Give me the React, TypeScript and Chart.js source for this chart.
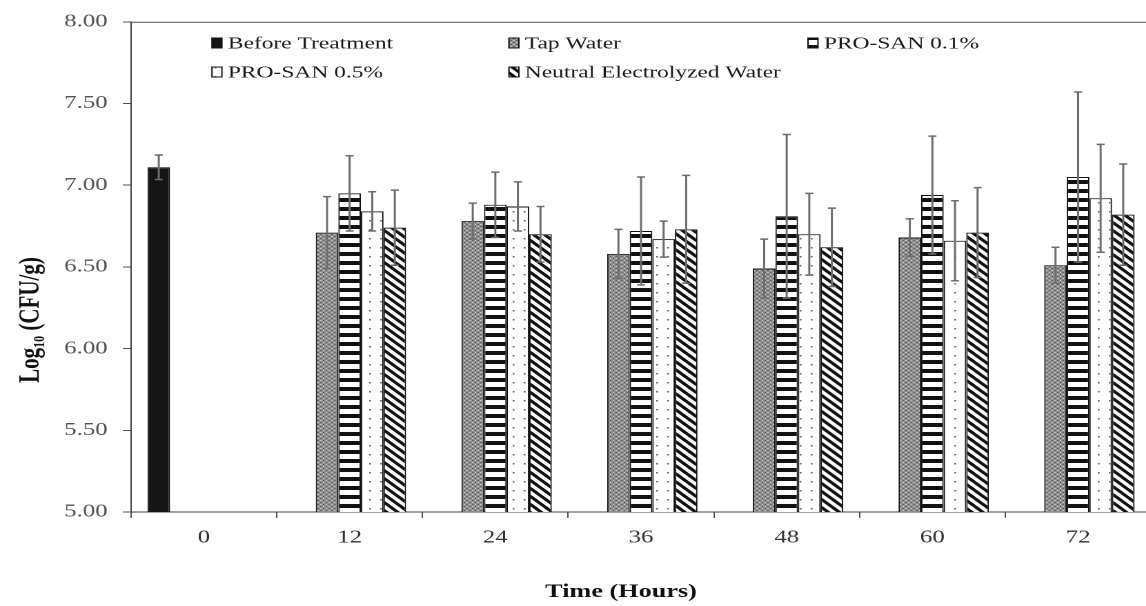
import React, { useEffect, useRef } from 'react';
import { Chart, registerables } from 'chart.js';

Chart.register(...registerables);

// ---------------- data ----------------
const categories = ['0', '12', '24', '36', '48', '60', '72'];
const seriesNames = ['Before Treatment', 'Tap Water', 'PRO-SAN 0.1%', 'PRO-SAN 0.5%', 'Neutral Electrolyzed Water'];

const beforeTreatment = [7.11, null, null, null, null, null, null];
const beforeTreatmentErr = [0.075, null, null, null, null, null, null];

const tapWater = [null, 6.71, 6.78, 6.58, 6.49, 6.68, 6.51];
const tapWaterErr = [null, 0.22, 0.11, 0.15, 0.18, 0.115, 0.11];

const proSan01 = [null, 6.95, 6.88, 6.72, 6.81, 6.94, 7.05];
const proSan01Err = [null, 0.23, 0.2, 0.33, 0.5, 0.36, 0.52];

const proSan05 = [null, 6.84, 6.87, 6.67, 6.7, 6.66, 6.92];
const proSan05Err = [null, 0.12, 0.15, 0.11, 0.25, 0.245, 0.33];

const neutralEW = [null, 6.74, 6.7, 6.73, 6.62, 6.71, 6.82];
const neutralEWErr = [null, 0.23, 0.17, 0.33, 0.24, 0.275, 0.31];

const yMin = 5;
const yMax = 8;
const yStep = 0.5;

const xTitle = 'Time (Hours)';
const yTitleMain = 'Log';
const yTitleSub = '10';
const yTitleRest = ' (CFU/g)';

// ---------------- layout (logical canvas px; page stretches x by S) ----------------
const S = 1.38;
const W = 840;
const H = 606;
const SERIF = '"Liberation Serif", "Times New Roman", serif';

const legendCols = [153.6, 368.8, 585.5];
const legendRows = [43, 72];
const legendSlots = [
  [0, 0],
  [1, 0],
  [2, 0],
  [0, 1],
  [1, 1],
];

function makePattern(w: number, h: number, draw: (c: CanvasRenderingContext2D) => void) {
  const c = document.createElement('canvas');
  c.width = w * 2;
  c.height = h * 2;
  const g = c.getContext('2d')!;
  g.scale(2, 2);
  draw(g);
  const p = g.createPattern(c, 'repeat')!;
  p.setTransform(new DOMMatrix().scale(0.5));
  return p;
}

function buildFills() {
  const solid = '#151515';
  const tap = makePattern(4, 4, (g) => {
    g.fillStyle = '#8e8e8e';
    g.fillRect(0, 0, 4, 4);
    g.fillStyle = '#cacaca';
    g.fillRect(0, 0, 1, 1);
    g.fillRect(2, 2, 1, 1);
    g.fillStyle = '#5c5c5c';
    g.fillRect(2, 0, 1, 1);
    g.fillRect(0, 2, 1, 1);
  });
  const horiz = makePattern(2, 9, (g) => {
    g.fillStyle = '#ffffff';
    g.fillRect(0, 0, 2, 9);
    g.fillStyle = '#111111';
    g.fillRect(0, 0, 2, 4);
  });
  const dots = makePattern(8, 9, (g) => {
    g.fillStyle = '#ffffff';
    g.fillRect(0, 0, 8, 9);
    g.fillStyle = '#6a6a6a';
    g.fillRect(3.5, 4, 1.3, 1.5);
  });
  const diag = makePattern(8, 8, (g) => {
    g.fillStyle = '#ffffff';
    g.fillRect(0, 0, 8, 8);
    g.strokeStyle = '#111111';
    g.lineWidth = 2.7;
    for (let k = -1; k <= 1; k++) {
      g.beginPath();
      g.moveTo(k * 8 - 1, -1);
      g.lineTo(k * 8 + 9, 9);
      g.stroke();
    }
  });
  return [solid, tap, horiz, dots, diag];
}

const overlayPlugin = {
  id: 'overlay',
  afterDatasetsDraw(chart: any) {
    const ctx = chart.ctx as CanvasRenderingContext2D;
    const ys = chart.scales.y;
    ctx.save();
    ctx.strokeStyle = '#6e6e6e';
    ctx.lineWidth = 1.5;
    const cap = 2.9;
    chart.data.datasets.forEach((ds: any, di: number) => {
      const meta = chart.getDatasetMeta(di);
      ds.data.forEach((v: number | null, i: number) => {
        const e = ds.errors[i];
        if (v == null || e == null) return;
        const bar = meta.data[i];
        const x = bar.x;
        const yt = ys.getPixelForValue(v + e);
        const yb = ys.getPixelForValue(v - e);
        ctx.beginPath();
        ctx.moveTo(x, yt);
        ctx.lineTo(x, yb);
        ctx.moveTo(x - cap, yt);
        ctx.lineTo(x + cap, yt);
        ctx.moveTo(x - cap, yb);
        ctx.lineTo(x + cap, yb);
        ctx.stroke();
      });
    });
    ctx.restore();
  },
  afterDraw(chart: any) {
    const ctx = chart.ctx as CanvasRenderingContext2D;
    const area = chart.chartArea;
    ctx.save();
    // top frame line
    ctx.strokeStyle = '#555555';
    ctx.lineWidth = 1;
    ctx.beginPath();
    ctx.moveTo(area.left, area.top + 0.5);
    ctx.lineTo(W, area.top + 0.5);
    ctx.stroke();

    // legend
    ctx.font = `17px ${SERIF}`;
    ctx.textBaseline = 'middle';
    ctx.textAlign = 'left';
    chart.data.datasets.forEach((ds: any, di: number) => {
      const [col, row] = legendSlots[di];
      const bx = legendCols[col];
      const cy = legendRows[row];
      ctx.fillStyle = ds.backgroundColor;
      ctx.fillRect(bx, cy - 5, 7.2, 10);
      ctx.strokeStyle = '#111';
      ctx.lineWidth = 1;
      ctx.strokeRect(bx, cy - 5, 7.2, 10);
      ctx.fillStyle = '#1a1a1a';
      ctx.fillText(ds.label, bx + 11.5, cy + 1);
    });

    // x title
    ctx.font = `bold 19px ${SERIF}`;
    ctx.textAlign = 'center';
    ctx.fillStyle = '#111';
    ctx.fillText(xTitle, 621 / S, 592);

    // y title (rotated, with subscript)
    const big = `bold 21px ${SERIF}`;
    const small = `bold 12px ${SERIF}`;
    ctx.font = big;
    const w1 = ctx.measureText(yTitleMain).width;
    const w3 = ctx.measureText(yTitleRest).width;
    ctx.font = small;
    const w2 = ctx.measureText(yTitleSub).width;
    const total = w1 + w2 + w3;
    ctx.translate(21, 320);
    ctx.rotate(-Math.PI / 2);
    ctx.textAlign = 'left';
    ctx.textBaseline = 'alphabetic';
    let x0 = -total / 2;
    ctx.font = big;
    ctx.fillText(yTitleMain, x0, 7);
    x0 += w1;
    ctx.font = small;
    ctx.fillText(yTitleSub, x0, 11);
    x0 += w2;
    ctx.font = big;
    ctx.fillText(yTitleRest, x0, 7);
    ctx.restore();
  },
};

export default function App() {
  const ref = useRef<HTMLCanvasElement>(null);

  useEffect(() => {
    document.body.style.margin = '0';
    const canvas = ref.current!;
    const fills = buildFills();
    const values = [beforeTreatment, tapWater, proSan01, proSan05, neutralEW];
    const errors = [beforeTreatmentErr, tapWaterErr, proSan01Err, proSan05Err, neutralEWErr];

    const chart = new Chart(canvas, {
      type: 'bar',
      data: {
        labels: categories,
        datasets: values.map((vals, i) => ({
          label: seriesNames[i],
          data: vals,
          errors: errors[i],
          backgroundColor: fills[i],
          borderColor: '#111111',
          borderWidth: 1,
          categoryPercentage: 0.775,
          barPercentage: 1.0,
        })) as any,
      },
      options: {
        responsive: false,
        animation: false,
        devicePixelRatio: 2,
        events: [],
        layout: { padding: { top: 15, right: 6, left: 0, bottom: 0 } },
        plugins: {
          legend: { display: false },
          tooltip: { enabled: false },
          title: { display: false },
        },
        scales: {
          x: {
            afterFit: (s: any) => {
              s.height = 94;
            },
            grid: {
              display: true,
              drawOnChartArea: false,
              drawTicks: true,
              tickLength: 6,
              color: '#555555',
              offset: true,
            },
            border: { display: true, color: '#444444', width: 1 },
            ticks: {
              color: '#333333',
              padding: 9,
              font: { family: SERIF, size: 18 },
            },
          },
          y: {
            min: yMin,
            max: yMax,
            afterFit: (s: any) => {
              s.width = 95;
            },
            grid: {
              display: true,
              drawOnChartArea: false,
              drawTicks: true,
              tickLength: 6,
              color: '#555555',
            },
            border: { display: true, color: '#444444', width: 1 },
            ticks: {
              stepSize: yStep,
              color: '#555555',
              padding: 11,
              font: { family: SERIF, size: 18 },
              callback: (v: any) => Number(v).toFixed(2),
            },
          },
        },
      },
      plugins: [overlayPlugin],
    });
    return () => chart.destroy();
  }, []);

  return (
    <div
      style={{
        position: 'fixed',
        left: 0,
        top: 0,
        width: 1146,
        height: 606,
        overflow: 'hidden',
        background: '#ffffff',
      }}
    >
      <div style={{ width: W, height: H, transform: `scaleX(${S})`, transformOrigin: '0 0' }}>
        <canvas ref={ref} width={W} height={H} style={{ display: 'block', width: W, height: H }} />
      </div>
    </div>
  );
}
